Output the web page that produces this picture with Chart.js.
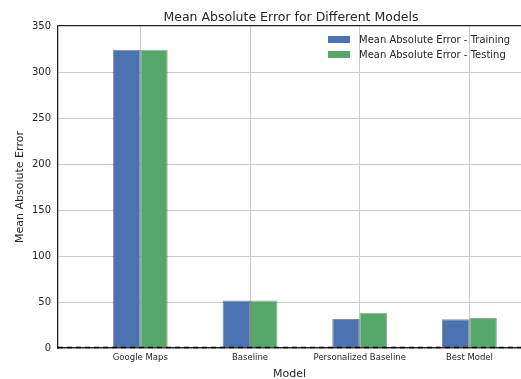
<!DOCTYPE html>
<html>
<head>
<meta charset="utf-8">
<script src="https://cdn.jsdelivr.net/npm/chart.js@4/dist/chart.umd.min.js"></script>
<style>
  html, body { margin: 0; padding: 0; background: #fff; overflow: hidden; }
  #wrap { position: relative; width: 521px; height: 379px; }
  #titulo { position: absolute; left: 191px; width: 200px; top: 9px; text-align: center; white-space: nowrap;
            font: 12.5px "DejaVu Sans", sans-serif; color: #262626; line-height: 16px; }
  #titulo span { display: inline-block; margin: 0 -100px; }
  #legend { position: absolute; left: 328px; top: 33px; font: 10px "DejaVu Sans", sans-serif; color: #262626; }
  #legend div { height: 14.5px; line-height: 14.5px; white-space: nowrap; }
  #legend span.sw { display: inline-block; width: 22px; height: 7px; margin-right: 9px; }
</style>
</head>
<body>
<div id="wrap">
  <canvas id="grafico" width="521" height="379"></canvas>
  <div id="titulo"><span></span></div>
  <div id="legend"></div>
</div>
<script>
// datos
var titulo = 'Mean Absolute Error for Different Models';
var categorias = ['Google Maps', 'Baseline', 'Personalized Baseline', 'Best Model'];
var entrenamiento = [324.3, 51.6, 31.4, 31.2];
var prueba = [324.3, 51.6, 38.3, 32.5];
var etiquetasSerie = ['Mean Absolute Error - Training', 'Mean Absolute Error - Testing'];
var colores = ['#4C72B0', '#55A868'];
var ticksY = [0, 50, 100, 150, 200, 250, 300, 350];

function puntos(valores) {
    return valores.map(function(v, i) { return { x: i, y: v }; });
}

var texto = '#262626';
var fuente = '"DejaVu Sans", sans-serif';

// linea discontinua en y = 0
var lineaCero = {
    id: 'lineaCero',
    afterDatasetsDraw: function(chart) {
        var ctx = chart.ctx, area = chart.chartArea;
        var y = chart.scales.y.getPixelForValue(0);
        ctx.save();
        ctx.strokeStyle = '#000';
        ctx.lineWidth = 1.5;
        ctx.setLineDash([5, 4]);
        ctx.beginPath();
        ctx.moveTo(area.left, y - 0.5);
        ctx.lineTo(area.right, y - 0.5);
        ctx.stroke();
        ctx.restore();
    }
};

var ctx = document.getElementById('grafico').getContext('2d');
var grafico = new Chart(ctx, {
    type: 'bar',
    data: {
        datasets: [{
            label: etiquetasSerie[0],
            data: puntos(entrenamiento),
            backgroundColor: colores[0],
            borderColor: 'rgba(30,40,70,0.55)',
            borderWidth: 1
        }, {
            label: etiquetasSerie[1],
            data: puntos(prueba),
            backgroundColor: colores[1],
            borderColor: 'rgba(30,60,40,0.45)',
            borderWidth: 1
        }]
    },
    options: {
        responsive: false,
        animation: false,
        categoryPercentage: 0.5,
        barPercentage: 1.0,
        layout: { padding: { left: 0, right: 0, top: 26, bottom: 0 } },
        plugins: {
            legend: { display: false },
            tooltip: { enabled: false },
            title: { display: false }
        },
        scales: {
            x: {
                type: 'linear',
                min: -0.75,
                max: 3.47,
                offset: false,
                afterBuildTicks: function(scale) {
                    scale.ticks = categorias.map(function(c, i) { return { value: i }; });
                },
                afterFit: function(scale) { scale.height = 31; },
                ticks: {
                    autoSkip: false,
                    maxRotation: 0,
                    padding: 5,
                    color: texto,
                    font: { family: fuente, size: 8.5 },
                    callback: function(v) { return categorias[v]; }
                },
                grid: { offset: false, drawTicks: false, color: '#cbcbcb', lineWidth: 1 },
                border: { color: '#222', width: 1.3 },
                title: {
                    display: true,
                    text: 'Model',
                    color: texto,
                    font: { family: fuente, size: 11 },
                    padding: { top: 0, bottom: -2 }
                }
            },
            y: {
                min: 0,
                max: 350,
                afterBuildTicks: function(scale) {
                    scale.ticks = ticksY.map(function(v) { return { value: v }; });
                },
                afterFit: function(scale) { scale.width = 58; },
                ticks: {
                    padding: 7,
                    color: texto,
                    font: { family: fuente, size: 10 }
                },
                grid: {
                    drawTicks: false,
                    lineWidth: function(c) { return c.tick && c.tick.value === 350 ? 1.3 : 1; },
                    color: function(c) { return c.tick && c.tick.value === 350 ? '#222' : '#cbcbcb'; }
                },
                border: { color: '#222', width: 1.3 },
                title: {
                    display: true,
                    text: 'Mean Absolute Error',
                    color: texto,
                    font: { family: fuente, size: 11 },
                    padding: { top: 14, bottom: 0 }
                }
            }
        }
    },
    plugins: [lineaCero]
});

// titulo y leyenda en html
document.querySelector('#titulo span').textContent = titulo;
var leyenda = document.getElementById('legend');
etiquetasSerie.forEach(function(et, i) {
    var fila = document.createElement('div');
    var sw = document.createElement('span');
    sw.className = 'sw';
    sw.style.background = colores[i];
    fila.appendChild(sw);
    fila.appendChild(document.createTextNode(et));
    leyenda.appendChild(fila);
});
</script>
</body>
</html>
